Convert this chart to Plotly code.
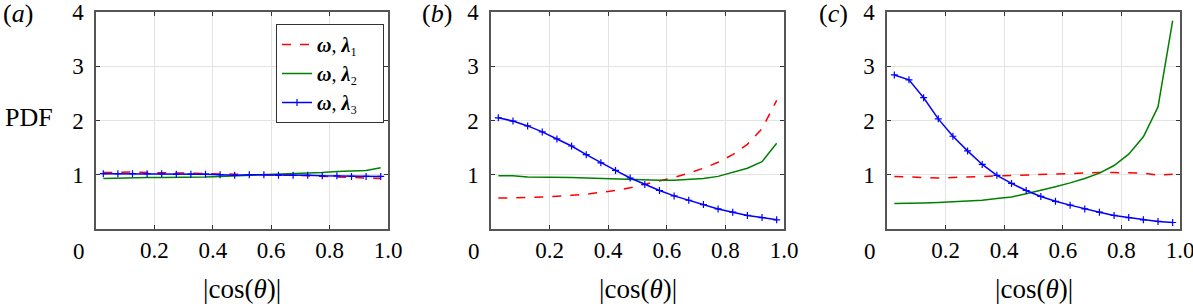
import plotly.graph_objects as go

W, H = 1193, 306

x_bins = [0.025, 0.075, 0.125, 0.175, 0.225, 0.275, 0.325, 0.375, 0.425, 0.475,
          0.525, 0.575, 0.625, 0.675, 0.725, 0.775, 0.825, 0.875, 0.925, 0.975]

# panel (a)
a_l1 = [1.04, 1.05, 1.05, 1.04, 1.04, 1.03, 1.03, 1.02, 1.02, 1.01,
        1.00, 1.00, 0.99, 0.99, 0.98, 0.97, 0.96, 0.95, 0.94, 0.93]
a_l2 = [0.93, 0.94, 0.94, 0.95, 0.95, 0.95, 0.96, 0.96, 0.97, 0.98,
        0.99, 1.00, 1.00, 1.01, 1.02, 1.04, 1.06, 1.07, 1.08, 1.13]
a_l3 = [1.02, 1.02, 1.02, 1.02, 1.02, 1.01, 1.01, 1.01, 1.00, 0.99,
        1.00, 1.00, 0.99, 0.99, 0.99, 0.98, 0.98, 0.97, 0.97, 0.97]

# panel (b)
b_l1 = [0.57, 0.57, 0.58, 0.59, 0.60, 0.62, 0.64, 0.67, 0.71, 0.76,
        0.82, 0.88, 0.95, 1.03, 1.12, 1.23, 1.37, 1.56, 1.85, 2.37]
b_l2 = [0.98, 0.98, 0.96, 0.96, 0.95, 0.95, 0.94, 0.93, 0.92, 0.91,
        0.90, 0.90, 0.90, 0.91, 0.93, 0.97, 1.04, 1.12, 1.24, 1.58]
b_l3 = [2.05, 1.99, 1.90, 1.79, 1.66, 1.53, 1.37, 1.22, 1.08, 0.94,
        0.82, 0.71, 0.61, 0.53, 0.45, 0.37, 0.31, 0.25, 0.21, 0.17]

# panel (c)
c_l1 = [0.97, 0.96, 0.95, 0.94, 0.95, 0.96, 0.97, 0.98, 0.99, 1.00,
        1.01, 1.02, 1.03, 1.04, 1.04, 1.04, 1.04, 1.03, 0.99, 1.01]
c_l2 = [0.47, 0.47, 0.48, 0.49, 0.50, 0.51, 0.53, 0.56, 0.59, 0.65,
        0.71, 0.78, 0.85, 0.93, 1.03, 1.17, 1.38, 1.70, 2.25, 3.84]
c_l3 = [2.84, 2.75, 2.42, 2.03, 1.71, 1.44, 1.19, 0.99, 0.84, 0.71,
        0.60, 0.51, 0.44, 0.37, 0.31, 0.25, 0.21, 0.17, 0.14, 0.12]

panels = [("a", a_l1, a_l2, a_l3), ("b", b_l1, b_l2, b_l3), ("c", c_l1, c_l2, c_l3)]
series_names = ["<b><i>ω</i></b>, <b><i>λ</i></b>₁",
                "<b><i>ω</i></b>, <b><i>λ</i></b>₂",
                "<b><i>ω</i></b>, <b><i>λ</i></b>₃"]
x_ticks = [0.2, 0.4, 0.6, 0.8, 1.0]
x_ticktext = ["0.2", "0.4", "0.6", "0.8", "1.0"]
y_ticks = [1, 2, 3, 4]
y_ticktext = ["1", "2", "3", "4"]

FONT = "Liberation Serif, Times New Roman, serif"
FS = 23
RED, GREEN, BLUE = "#ff0000", "#008000", "#0000ff"

# plot-area pixel boxes (left, right)
px_x = [(96, 388), (491, 784), (887, 1180)]
px_top, px_bot = 12, 229

PAD = "\u2002\u2002"

fig = go.Figure()
for i, (lab, l1, l2, l3) in enumerate(panels):
    xa = "x" if i == 0 else f"x{i+1}"
    ya = "y" if i == 0 else f"y{i+1}"
    show = i == 0
    fig.add_trace(go.Scatter(x=x_bins, y=l1, mode="lines", name=series_names[0] + PAD,
                             line=dict(color=RED, width=1.5, dash="dash"),
                             xaxis=xa, yaxis=ya, showlegend=show))
    fig.add_trace(go.Scatter(x=x_bins, y=l2, mode="lines", name=series_names[1] + PAD,
                             line=dict(color=GREEN, width=1.5),
                             xaxis=xa, yaxis=ya, showlegend=show))
    fig.add_trace(go.Scatter(x=x_bins, y=l3, mode="lines+markers", name=series_names[2] + PAD,
                             line=dict(color=BLUE, width=1.5),
                             marker=dict(symbol="cross-thin", size=5,
                                         line=dict(color=BLUE, width=1.2)),
                             xaxis=xa, yaxis=ya, showlegend=show))

axis_common = dict(showline=True, linecolor="#555555", linewidth=1.5, mirror="ticks",
                   ticks="inside", ticklen=4, tickcolor="#333333", tickwidth=1,
                   showgrid=True, gridcolor="#e3e3e3", gridwidth=1, zeroline=False,
                   automargin=False, ticklabeloverflow="allow",
                   tickfont=dict(family=FONT, size=FS, color="black"))

layout = dict(template="none", width=W, height=H,
              margin=dict(l=0, r=0, t=0, b=0, pad=0, autoexpand=False),
              paper_bgcolor="white", plot_bgcolor="white", showlegend=True,
              font=dict(family=FONT, size=FS, color="black"))
ydom = [1 - px_bot / H, 1 - px_top / H]
for i, (l, r) in enumerate(px_x):
    sx = "" if i == 0 else str(i + 1)
    layout[f"xaxis{sx}"] = dict(axis_common, domain=[l / W, r / W], range=[0, 1],
                                tickvals=x_ticks, ticktext=x_ticktext,
                                ticklabelstandoff=0,
                                anchor="y" + sx)
    layout[f"yaxis{sx}"] = dict(axis_common, domain=ydom, range=[0, 4],
                                tickvals=y_ticks, ticktext=y_ticktext,
                                ticklabelstandoff=6,
                                anchor="x" + sx)
fig.update_layout(**layout)

fig.update_layout(legend=dict(x=276 / W, y=1 - 24 / H, xanchor="left", yanchor="top",
                              bgcolor="white", bordercolor="#333333", borderwidth=1,
                              font=dict(family=FONT, size=20), itemwidth=30,
                              tracegroupgap=0))

annotations = []
for i, (l, r) in enumerate(px_x):
    # the shared origin label "0"
    annotations.append(dict(x=(l - 17) / W, y=1 - 251 / H, xref="paper", yref="paper",
                            text="0", showarrow=False, font=dict(family=FONT, size=FS),
                            xanchor="center", yanchor="middle"))
    annotations.append(dict(x=(l + r) / 2 / W, y=1 - 289 / H, xref="paper", yref="paper",
                            text="|cos(<i>θ</i>)|", showarrow=False,
                            font=dict(family=FONT, size=27),
                            xanchor="center", yanchor="middle"))
panel_label_x = [18, 437, 833]
for lab, cx in zip(["a", "b", "c"], panel_label_x):
    annotations.append(dict(x=cx / W, y=1 - 14 / H, xref="paper", yref="paper",
                            text=f"(<i>{lab}</i>)", showarrow=False,
                            font=dict(family=FONT, size=26),
                            xanchor="center", yanchor="middle"))
annotations.append(dict(x=29 / W, y=1 - 118 / H, xref="paper", yref="paper",
                        text="PDF", showarrow=False, font=dict(family=FONT, size=26),
                        xanchor="center", yanchor="middle"))
fig.update_layout(annotations=annotations)

fig.write_html("out.html", config={"displayModeBar": False},
               post_script="document.body.style.margin='0';document.body.style.overflow='hidden';")
